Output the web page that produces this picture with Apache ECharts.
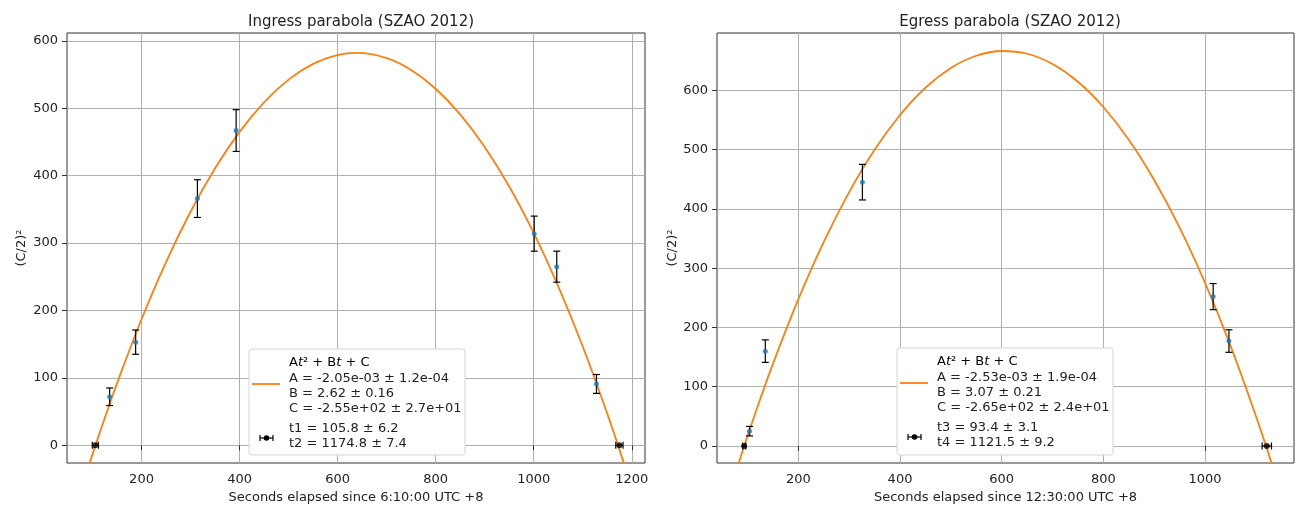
<!DOCTYPE html>
<html>
<head>
<meta charset="utf-8">
<script src="https://cdn.jsdelivr.net/npm/echarts@6/dist/echarts.min.js"></script>
<style>
  html, body { margin: 0; padding: 0; background: #fff; }
  #chart { width: 1307px; height: 516px; }
</style>
</head>
<body>
<div id="chart"></div>
<script>
// measured points (seconds, (C/2)^2, error)
const ingressT = [135, 188, 314, 393, 1001, 1047, 1128]
const ingressY = [72, 153, 366, 467, 314, 265, 91]
const ingressErr = [13, 18, 28, 31, 26, 23, 14]
const egressT = [104, 135, 326, 1016, 1047]
const egressY = [25, 160, 445, 252, 177]
const egressErr = [8, 19, 30, 22, 19]

// contact times [t, 0, err]
const ingressContacts = [[105.8, 0, 6.2], [1174.8, 0, 7.4]]
const egressContacts = [[93.4, 0, 3.1], [1121.5, 0, 9.2]]

// fitted parabola
const ingressCurveT = [80, 90, 100, 125, 150, 200, 250, 300, 350, 400, 450, 500, 550, 600, 640, 700, 750, 800, 850, 900, 950, 1000, 1050, 1100, 1150, 1175, 1200]
const ingressCurveY = [-58.5, -35.8, -13.5, 40.5, 91.9, 187, 271.9, 346.5, 410.9, 465, 508.9, 542.5, 565.9, 579, 582.1, 574.5, 556.9, 529, 490.9, 442.5, 383.9, 315, 235.9, 146.5, 46.9, -6.8, -63]
const egressCurveT = [70, 90, 100, 125, 150, 200, 250, 300, 350, 400, 450, 500, 550, 600, 650, 700, 750, 800, 850, 900, 950, 1000, 1050, 1100, 1125, 1150]
const egressCurveY = [-62.5, -9.2, 16.7, 79.2, 138.6, 247.8, 344.4, 428.3, 499.6, 558.2, 604.2, 637.5, 658.2, 666.2, 661.6, 644.3, 614.4, 571.8, 516.6, 448.7, 368.2, 275, 169.2, 50.7, -13.3, -80.4]

// ticks
const ingressXTicks = [200, 400, 600, 800, 1000, 1200]
const egressXTicks = [200, 400, 600, 800, 1000]
const ingressYTicks = [0, 100, 200, 300, 400, 500, 600]
const egressYTicks = [0, 100, 200, 300, 400, 500, 600]

// texts
const titles = ['Ingress parabola (SZAO 2012)', 'Egress parabola (SZAO 2012)']
const xNames = ['Seconds elapsed since 6:10:00 UTC +8', 'Seconds elapsed since 12:30:00 UTC +8']
const yName = '(C/2)\u00b2'
const ingressFit = ['A = -2.05e-03 \u00b1 1.2e-04', 'B = 2.62 \u00b1 0.16', 'C = -2.55e+02 \u00b1 2.7e+01']
const ingressTimes = ['t1 = 105.8 \u00b1 6.2', 't2 = 1174.8 \u00b1 7.4']
const egressFit = ['A = -2.53e-03 \u00b1 1.9e-04', 'B = 3.07 \u00b1 0.21', 'C = -2.65e+02 \u00b1 2.4e+01']
const egressTimes = ['t3 = 93.4 \u00b1 3.1', 't4 = 1121.5 \u00b1 9.2']

const FONT = 'DejaVu Sans'
const BLUE = '#1f77b4'
const ORANGE = '#ff7f0e'

function zip(a, b, c) {
  return a.map((v, i) => c ? [v, b[i], c[i]] : [v, b[i]])
}

function vErrBar(params, api) {
  const x = api.value(0)
  const y = api.value(1)
  const e = api.value(2)
  const top = api.coord([x, y + e])
  const bot = api.coord([x, y - e])
  const cap = 3.5
  const style = { stroke: '#000', lineWidth: 1.2 }
  return {
    type: 'group',
    children: [
      { type: 'line', shape: { x1: top[0], y1: top[1], x2: bot[0], y2: bot[1] }, style },
      { type: 'line', shape: { x1: top[0] - cap, y1: top[1], x2: top[0] + cap, y2: top[1] }, style },
      { type: 'line', shape: { x1: bot[0] - cap, y1: bot[1], x2: bot[0] + cap, y2: bot[1] }, style }
    ]
  }
}

function hErrBar(params, api) {
  const x = api.value(0)
  const y = api.value(1)
  const e = api.value(2)
  const l = api.coord([x - e, y])
  const r = api.coord([x + e, y])
  const cap = 3.5
  const style = { stroke: '#000', lineWidth: 1.2 }
  return {
    type: 'group',
    children: [
      { type: 'line', shape: { x1: l[0], y1: l[1], x2: r[0], y2: r[1] }, style },
      { type: 'line', shape: { x1: l[0], y1: l[1] - cap, x2: l[0], y2: l[1] + cap }, style },
      { type: 'line', shape: { x1: r[0], y1: r[1] - cap, x2: r[0], y2: r[1] + cap }, style }
    ]
  }
}

function plain(v) {
  return String(v)
}

function xAxis(idx, min, max, ticks) {
  return {
    type: 'value',
    gridIndex: idx,
    min: min,
    max: max,
    name: xNames[idx],
    nameLocation: 'middle',
    nameGap: 26,
    nameTextStyle: { fontFamily: FONT, fontSize: 13, color: '#222' },
    axisLine: { show: false },
    axisTick: { show: true, length: 5, customValues: ticks, lineStyle: { color: '#333' } },
    axisLabel: { customValues: ticks, formatter: plain, margin: 10, fontFamily: FONT, fontSize: 13, color: '#222' },
    splitLine: { show: true, lineStyle: { color: '#b0b0b0', width: 1 } }
  }
}

function yAxis(idx, min, max, ticks, gap) {
  return {
    type: 'value',
    gridIndex: idx,
    min: min,
    max: max,
    name: yName,
    nameLocation: 'middle',
    nameGap: gap,
    nameTextStyle: { fontFamily: FONT, fontSize: 13, color: '#222' },
    axisLine: { show: false },
    axisTick: { show: true, length: 5, customValues: ticks, lineStyle: { color: '#333' } },
    axisLabel: { customValues: ticks, formatter: plain, margin: 9, fontFamily: FONT, fontSize: 13, color: '#222' },
    splitLine: { show: true, lineStyle: { color: '#b0b0b0', width: 1 } }
  }
}

function panelSeries(idx, t, y, err, curveT, curveY, contacts) {
  return [
    {
      type: 'line',
      xAxisIndex: idx,
      yAxisIndex: idx,
      data: zip(curveT, curveY),
      showSymbol: false,
      smooth: 0.4,
      clip: true,
      lineStyle: { color: ORANGE, width: 1.8 },
      z: 2
    },
    {
      type: 'custom',
      xAxisIndex: idx,
      yAxisIndex: idx,
      renderItem: vErrBar,
      encode: { x: 0, y: 1 },
      data: zip(t, y, err),
      z: 3
    },
    {
      type: 'scatter',
      xAxisIndex: idx,
      yAxisIndex: idx,
      data: zip(t, y),
      symbolSize: 5,
      itemStyle: { color: BLUE },
      z: 4
    },
    {
      type: 'custom',
      xAxisIndex: idx,
      yAxisIndex: idx,
      renderItem: hErrBar,
      encode: { x: 0, y: 1 },
      data: contacts,
      z: 3
    },
    {
      type: 'scatter',
      xAxisIndex: idx,
      yAxisIndex: idx,
      data: contacts.map(c => [c[0], c[1]]),
      symbolSize: 6,
      itemStyle: { color: '#000' },
      z: 4
    }
  ]
}

// legend box drawn as graphics (multi-line text with math)
function legendBox(x, y, w, h, fitLines, timeLines) {
  const textStyle = { fontFamily: FONT, fontSize: 13, fill: '#222' }
  const tx = x + 40
  const children = [
    {
      type: 'rect',
      z: 100,
      shape: { x: x, y: y, width: w, height: h, r: 3 },
      style: { fill: '#fff', stroke: '#d5d5d5', lineWidth: 1 }
    },
    {
      type: 'line',
      z: 101,
      shape: { x1: x + 3, y1: y + 35, x2: x + 31, y2: y + 35 },
      style: { stroke: ORANGE, lineWidth: 1.8 }
    },
    {
      type: 'text',
      z: 101,
      style: {
        x: tx, y: y + 14, verticalAlign: 'middle',
        text: '{n|A}{i|t}{n|\u00b2 + B}{i|t}{n| + C}',
        rich: {
          n: { fontFamily: FONT, fontSize: 13, color: '#222' },
          i: { fontFamily: FONT, fontSize: 13, fontStyle: 'italic', color: '#222' }
        }
      }
    },
    // contact marker
    { type: 'line', z: 101, shape: { x1: x + 11, y1: y + 89, x2: x + 24, y2: y + 89 }, style: { stroke: '#000', lineWidth: 1.2 } },
    { type: 'line', z: 101, shape: { x1: x + 11, y1: y + 86, x2: x + 11, y2: y + 92 }, style: { stroke: '#000', lineWidth: 1.2 } },
    { type: 'line', z: 101, shape: { x1: x + 24, y1: y + 86, x2: x + 24, y2: y + 92 }, style: { stroke: '#000', lineWidth: 1.2 } },
    { type: 'circle', z: 101, shape: { cx: x + 17.5, cy: y + 89, r: 2.8 }, style: { fill: '#000' } }
  ]
  fitLines.forEach((s, i) => {
    children.push({ type: 'text', z: 101, style: Object.assign({ x: tx, y: y + 30 + i * 15, verticalAlign: 'middle', text: s }, textStyle) })
  })
  timeLines.forEach((s, i) => {
    children.push({ type: 'text', z: 101, style: Object.assign({ x: tx, y: y + 80 + i * 15, verticalAlign: 'middle', text: s }, textStyle) })
  })
  return { type: 'group', z: 100, children: children }
}

const myChart = echarts.init(document.getElementById('chart'), null, { renderer: 'canvas' })

const option = {
  animation: false,
  backgroundColor: '#fff',
  title: [
    { text: titles[0], left: 356, top: 10, textAlign: 'center', textStyle: { fontFamily: FONT, fontSize: 15, fontWeight: 'normal', color: '#222' } },
    { text: titles[1], left: 1005, top: 10, textAlign: 'center', textStyle: { fontFamily: FONT, fontSize: 15, fontWeight: 'normal', color: '#222' } }
  ],
  grid: [
    { left: 67, right: 662, top: 33, bottom: 53, show: true, borderColor: '#333', borderWidth: 1, backgroundColor: 'transparent' },
    { left: 717, right: 13, top: 33, bottom: 53, show: true, borderColor: '#333', borderWidth: 1, backgroundColor: 'transparent' }
  ],
  xAxis: [
    xAxis(0, 48, 1227, ingressXTicks),
    xAxis(1, 40, 1175, egressXTicks)
  ],
  yAxis: [
    yAxis(0, -26.3, 611.7, ingressYTicks, 39),
    yAxis(1, -28.7, 696.6, egressYTicks, 38)
  ],
  graphic: [
    legendBox(249, 349, 216, 106, ingressFit, ingressTimes),
    legendBox(897, 348, 216, 107, egressFit, egressTimes)
  ],
  series: [].concat(
    panelSeries(0, ingressT, ingressY, ingressErr, ingressCurveT, ingressCurveY, ingressContacts),
    panelSeries(1, egressT, egressY, egressErr, egressCurveT, egressCurveY, egressContacts)
  )
}

myChart.setOption(option)
</script>
</body>
</html>
